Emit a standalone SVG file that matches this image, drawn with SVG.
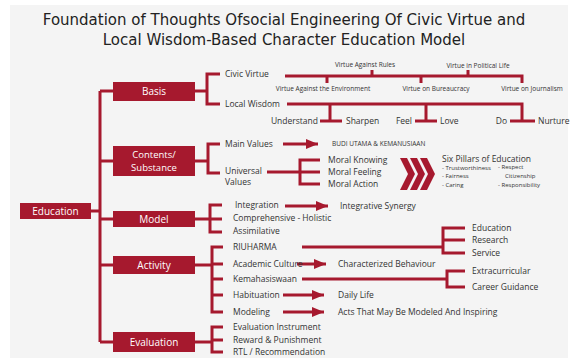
<svg xmlns="http://www.w3.org/2000/svg" width="580" height="358" viewBox="0 0 580 358">
<defs>
<style>
.ln{stroke:#a6192e;stroke-width:3;fill:none}
.box{fill:#a6192e}
.bt{fill:#fff;font-family:"Open Sans",sans-serif;font-size:10px;text-anchor:middle}
.bt2{font-size:9.5px}
.t{fill:#333;font-family:"Open Sans",sans-serif;font-size:8.5px}
.s{font-size:6.5px}
.p{font-size:6px}
.m{text-anchor:middle}
.e{text-anchor:end}
.ttl{fill:#222;font-family:"DejaVu Sans",sans-serif;font-size:15px;text-anchor:middle}
</style>
<marker id="ar" markerUnits="userSpaceOnUse" markerWidth="12" markerHeight="10" refX="12" refY="5" orient="auto">
<path d="M0,0 L12,5 L0,10 Z" fill="#a6192e"/>
</marker>
</defs>
<rect width="580" height="358" fill="#fff"/>
<rect x="10" y="5" width="558" height="353" fill="#f4f4f4"/>
<g id="title">
<text class="ttl" x="284" y="25">Foundation of Thoughts Ofsocial Engineering Of Civic Virtue and</text>
<text class="ttl" x="284" y="45">Local Wisdom-Based Character Education Model</text>
</g>
<g id="connectors">
<path class="ln" d="M100,91 V342 M100,91 H113 M100,161 H113 M100,219 H113 M100,265 H113 M100,342 H113 M91,211 H100"/>
<path class="ln" d="M195,91 H207 M220,74 H207 V104 H220"/>
<path class="ln" d="M285,76 H522 V83 M372,76 V70 M468,76 V70 M327,76 V83 M421,76 V83"/>
<path class="ln" d="M287,104 H522 V121 M330,104 V121 M426,104 V121 M320,121 H342 M415,121 H437 M510,121 H535"/>
<path class="ln" d="M195,161 H208 M220,144 H208 V173 H220"/>
<path class="ln" d="M283,144 H318" marker-end="url(#ar)"/>
<path class="ln" d="M267,172 H300 M320,160 H300 V184 H320 M300,172 H320"/>
<path class="ln" d="M195,219 H210 M222,205 H210 V232 H222 M210,219 H222"/>
<path class="ln" d="M285,206 H328" marker-end="url(#ar)"/>
<path class="ln" d="M195,265 H212 M223,247 H212 V312 H223 M212,264 H223 M212,279 H223 M212,295 H223"/>
<path class="ln" d="M302,247 H443 M465,228 H443 V253 H465 M443,240 H465"/>
<path class="ln" d="M297,264 H326" marker-end="url(#ar)"/>
<path class="ln" d="M302,279 H447 M465,271 H447 V287 H465"/>
<path class="ln" d="M283,295 H324" marker-end="url(#ar)"/>
<path class="ln" d="M283,312 H324" marker-end="url(#ar)"/>
<path class="ln" d="M195,342 H212 M223,327 H212 V352 H223 M212,340 H223"/>
<g fill="#a6192e">
<polygon points="400,158 407,158 415,174 407,190 400,190 408,174"/>
<polygon points="410,158 417,158 425,174 417,190 410,190 418,174"/>
<polygon points="420,158 427,158 435,174 427,190 420,190 428,174"/>
</g>
</g>
<g id="education">
<rect class="box" x="20" y="203" width="71" height="16"/>
<text class="bt" x="55.5" y="211" dy="0.35em">Education</text>
</g>
<g id="basis">
<rect class="box" x="113" y="82" width="82" height="19"/>
<text class="bt" x="154" y="91.5" dy="0.35em">Basis</text>
<text class="t" x="225" y="74" dy="0.35em">Civic Virtue</text>
<text class="t" x="225" y="104" dy="0.35em">Local Wisdom</text>
<text class="t s m" x="365" y="65" dy="0.35em">Virtue Against Rules</text>
<text class="t s m" x="478" y="66" dy="0.35em">Virtue in Political Life</text>
<text class="t s m" x="323" y="89" dy="0.35em">Virtue Against the Environment</text>
<text class="t s m" x="436" y="89" dy="0.35em">Virtue on Bureaucracy</text>
<text class="t s m" x="532" y="89" dy="0.35em">Virtue on Journalism</text>
<text class="t e" x="318" y="121" dy="0.35em">Understand</text>
<text class="t" x="346" y="121" dy="0.35em">Sharpen</text>
<text class="t e" x="412" y="121" dy="0.35em">Feel</text>
<text class="t" x="440" y="121" dy="0.35em">Love</text>
<text class="t e" x="507" y="121" dy="0.35em">Do</text>
<text class="t" x="538" y="121" dy="0.35em">Nurture</text>
</g>
<g id="contents">
<rect class="box" x="113" y="146" width="82" height="30"/>
<text class="bt bt2" x="154" y="154.5" dy="0.35em">Contents/</text>
<text class="bt bt2" x="154" y="167.5" dy="0.35em">Substance</text>
<text class="t" x="225" y="144" dy="0.35em">Main Values</text>
<text class="t" x="225" y="171" dy="0.35em">Universal</text>
<text class="t" x="225" y="182" dy="0.35em">Values</text>
<text class="t s" x="332" y="144" dy="0.35em">BUDI UTAMA &amp; KEMANUSIAAN</text>
<text class="t" x="328" y="160" dy="0.35em">Moral Knowing</text>
<text class="t" x="328" y="172" dy="0.35em">Moral Feeling</text>
<text class="t" x="328" y="184" dy="0.35em">Moral Action</text>
<text class="t" x="442" y="159" dy="0.35em">Six Pillars of Education</text>
<text class="t p" x="442" y="168" dy="0.35em">- Trustworthiness</text>
<text class="t p" x="442" y="176" dy="0.35em">- Fairness</text>
<text class="t p" x="442" y="185" dy="0.35em">- Caring</text>
<text class="t p" x="498" y="167" dy="0.35em">- Respect</text>
<text class="t p" x="505" y="176" dy="0.35em">Citizenship</text>
<text class="t p" x="498" y="185" dy="0.35em">- Responsibility</text>
</g>
<g id="model">
<rect class="box" x="113" y="211" width="82" height="16"/>
<text class="bt" x="154" y="219" dy="0.35em">Model</text>
<text class="t" x="235" y="205" dy="0.35em">Integration</text>
<text class="t" x="233" y="218" dy="0.35em">Comprehensive - Holistic</text>
<text class="t" x="233" y="231" dy="0.35em">Assimilative</text>
<text class="t" x="340" y="206" dy="0.35em">Integrative Synergy</text>
</g>
<g id="activity">
<rect class="box" x="113" y="256" width="82" height="18"/>
<text class="bt" x="154" y="265" dy="0.35em">Activity</text>
<text class="t" x="233" y="247" dy="0.35em">RIUHARMA</text>
<text class="t" x="233" y="264" dy="0.35em">Academic Culture</text>
<text class="t" x="233" y="279" dy="0.35em">Kemahasiswaan</text>
<text class="t" x="233" y="295" dy="0.35em">Habituation</text>
<text class="t" x="233" y="312" dy="0.35em">Modeling</text>
<text class="t" x="338" y="264" dy="0.35em">Characterized Behaviour</text>
<text class="t" x="472" y="228" dy="0.35em">Education</text>
<text class="t" x="472" y="240" dy="0.35em">Research</text>
<text class="t" x="472" y="253" dy="0.35em">Service</text>
<text class="t" x="472" y="271" dy="0.35em">Extracurricular</text>
<text class="t" x="472" y="287" dy="0.35em">Career Guidance</text>
<text class="t" x="338" y="295" dy="0.35em">Daily Life</text>
<text class="t" x="338" y="312" dy="0.35em">Acts That May Be Modeled And Inspiring</text>
</g>
<g id="evaluation">
<rect class="box" x="113" y="332" width="82" height="20"/>
<text class="bt" x="154" y="342" dy="0.35em">Evaluation</text>
<text class="t" x="233" y="327" dy="0.35em">Evaluation Instrument</text>
<text class="t" x="233" y="340" dy="0.35em">Reward &amp; Punishment</text>
<text class="t" x="233" y="352" dy="0.35em">RTL / Recommendation</text>
</g>
</svg>
